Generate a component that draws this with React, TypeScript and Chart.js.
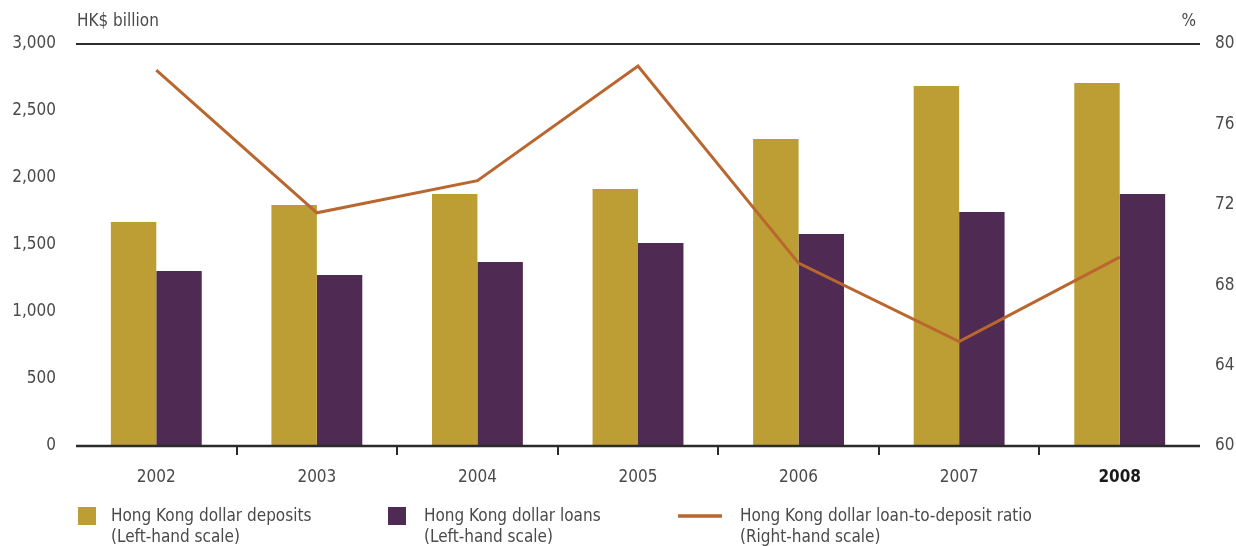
import React, { useEffect, useRef } from "react";
import { Chart, registerables } from "chart.js";

Chart.register(...registerables);

const years = ["2002", "2003", "2004", "2005", "2006", "2007", "2008"];
const deposits = [1672, 1799, 1881, 1918, 2291, 2687, 2709];
const loans = [1306, 1276, 1373, 1515, 1582, 1746, 1881];
const ratio = [78.7, 71.6, 73.2, 78.9, 69.1, 65.2, 69.4];
const leftAxisTitle = "HK$ billion";
const rightAxisTitle = "%";
const depositsLegend = ["Hong Kong dollar deposits", "(Left-hand scale)"];
const loansLegend = ["Hong Kong dollar loans", "(Left-hand scale)"];
const ratioLegend = ["Hong Kong dollar loan-to-deposit ratio", "(Right-hand scale)"];

const GOLD = "#BC9E35";
const PURPLE = "#4F2A53";
const LINE = "#B9662F";
const TEXT = "#4a4a4a";
const AXIS = "#2b2b2b";
const FONT = "'Liberation Sans Narrow', 'DejaVu Sans Condensed', Roboto, sans-serif";
const FS = 17;

const decorPlugin = {
  id: "decor",
  afterDatasetsDraw(chart: any) {
    const { ctx, chartArea } = chart;
    const x = chart.scales.x;
    ctx.save();
    ctx.strokeStyle = AXIS;
    ctx.lineWidth = 2;
    ctx.beginPath();
    ctx.moveTo(chartArea.left, chartArea.top);
    ctx.lineTo(chartArea.right, chartArea.top);
    ctx.stroke();
    ctx.lineWidth = 2.5;
    ctx.beginPath();
    ctx.moveTo(chartArea.left, chartArea.bottom);
    ctx.lineTo(chartArea.right, chartArea.bottom);
    ctx.stroke();
    ctx.lineWidth = 2;
    for (let i = 1; i < years.length; i++) {
      const px = Math.round((x.getPixelForTick(i - 1) + x.getPixelForTick(i)) / 2);
      ctx.beginPath();
      ctx.moveTo(px, chartArea.bottom);
      ctx.lineTo(px, chartArea.bottom + 9);
      ctx.stroke();
    }
    ctx.restore();
  },
  afterDraw(chart: any) {
    const { ctx, chartArea } = chart;
    ctx.save();
    ctx.fillStyle = TEXT;
    ctx.font = `${FS}px ${FONT}`;
    ctx.textBaseline = "middle";
    ctx.textAlign = "left";
    ctx.fillText(leftAxisTitle, chartArea.left + 1, 22);
    ctx.textAlign = "right";
    ctx.fillText(rightAxisTitle, 1196, 22);

    // legend
    const ds = chart.data.datasets;
    const y1 = 517;
    const y2 = 538;
    ctx.textAlign = "left";
    ctx.fillStyle = ds[0].backgroundColor;
    ctx.fillRect(78, 507, 18, 18);
    ctx.fillStyle = ds[1].backgroundColor;
    ctx.fillRect(388, 507, 18, 18);
    ctx.strokeStyle = ds[2].borderColor;
    ctx.lineWidth = 3.5;
    ctx.beginPath();
    ctx.moveTo(678, 516);
    ctx.lineTo(722, 516);
    ctx.stroke();
    ctx.fillStyle = TEXT;
    ctx.fillText(depositsLegend[0], 111, y1);
    ctx.fillText(depositsLegend[1], 111, y2);
    ctx.fillText(loansLegend[0], 424, y1);
    ctx.fillText(loansLegend[1], 424, y2);
    ctx.fillText(ratioLegend[0], 740, y1);
    ctx.fillText(ratioLegend[1], 740, y2);
    ctx.restore();
  },
};

export default function App() {
  const ref = useRef<HTMLCanvasElement>(null);
  useEffect(() => {
    if (!ref.current) return;
    const chart = new Chart(ref.current, {
      type: "bar",
      data: {
        labels: years,
        datasets: [
          {
            type: "bar",
            label: depositsLegend.join(" "),
            data: deposits,
            backgroundColor: GOLD,
            borderWidth: 0,
            yAxisID: "y",
            order: 2,
            categoryPercentage: 0.566,
            barPercentage: 1,
          },
          {
            type: "bar",
            label: loansLegend.join(" "),
            data: loans,
            backgroundColor: PURPLE,
            borderWidth: 0,
            yAxisID: "y",
            order: 2,
            categoryPercentage: 0.566,
            barPercentage: 1,
          },
          {
            type: "line",
            label: ratioLegend.join(" "),
            data: ratio,
            borderColor: LINE,
            backgroundColor: LINE,
            borderWidth: 3,
            pointRadius: 0,
            tension: 0,
            yAxisID: "y1",
            order: 0,
          } as any,
        ],
      },
      options: {
        animation: false,
        responsive: false,
        devicePixelRatio: 1,
        layout: { padding: { top: 44, bottom: 0, left: 0, right: 0 } },
        plugins: { legend: { display: false }, tooltip: { enabled: false } },
        scales: {
          x: {
            grid: { display: false },
            border: { display: false },
            ticks: {
              padding: 13,
              color: (c: any) => (c.index === 6 ? "#1a1a1a" : TEXT),
              font: (c: any) => ({ family: FONT, size: FS, weight: c.index === 6 ? "bold" : "normal" }),
            },
            afterFit: (s: any) => {
              s.height = 100;
            },
          },
          y: {
            position: "left",
            min: 0,
            max: 3000,
            ticks: {
              stepSize: 500,
              padding: 20,
              color: TEXT,
              font: { family: FONT, size: FS },
            },
            grid: { display: false, drawTicks: false },
            border: { display: false },
            afterFit: (s: any) => {
              s.width = 76;
            },
          },
          y1: {
            position: "right",
            min: 60,
            max: 80,
            ticks: {
              stepSize: 4,
              padding: 15,
              color: TEXT,
              font: { family: FONT, size: FS },
            },
            grid: { display: false, drawTicks: false },
            border: { display: false },
            afterFit: (s: any) => {
              s.width = 36;
            },
          },
        },
      },
      plugins: [decorPlugin],
    });
    return () => chart.destroy();
  }, []);
  return (
    <div style={{ position: "absolute", left: 0, top: 0, width: 1236, height: 546, background: "#fff" }}>
      <canvas ref={ref} width={1236} height={546} />
    </div>
  );
}
